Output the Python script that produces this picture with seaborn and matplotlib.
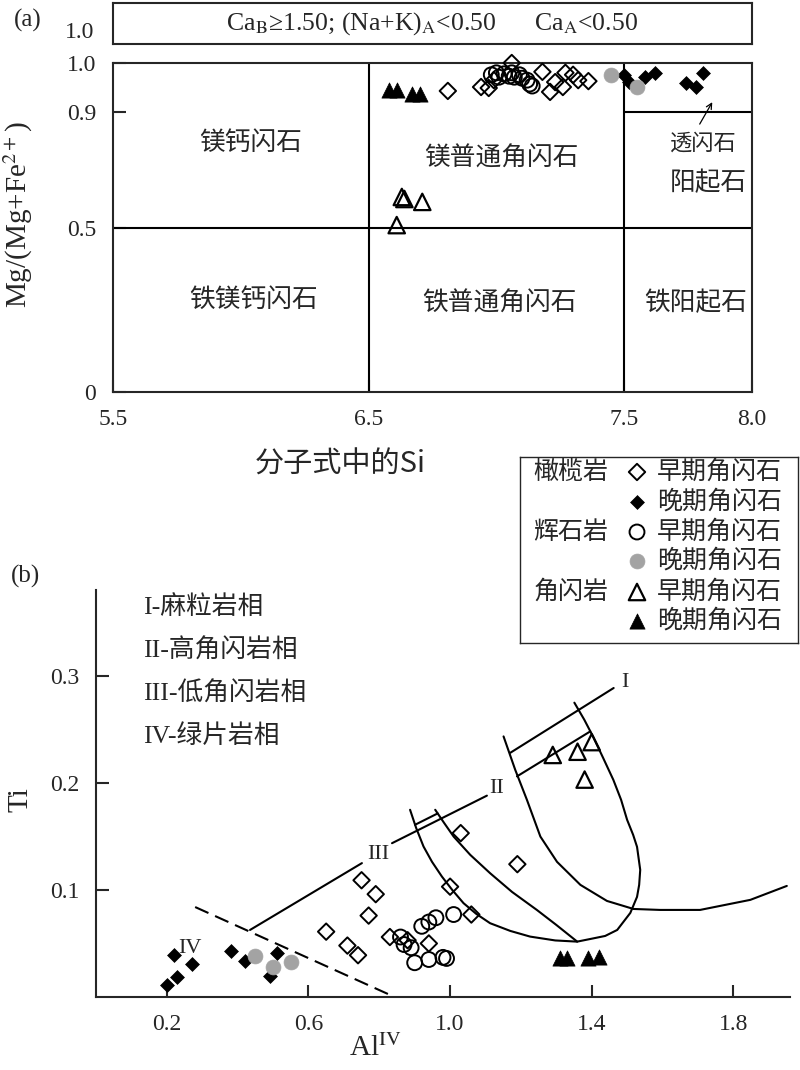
import numpy as np
import matplotlib
matplotlib.use('Agg')
import matplotlib.pyplot as plt
import seaborn as sns

sns.set_style('ticks')
plt.rcParams['font.family'] = ['Liberation Serif', 'Noto Sans CJK SC']
plt.rcParams['mathtext.fontset'] = 'stix'
plt.rcParams['axes.unicode_minus'] = False

# ---- panel (a): Si vs Mg/(Mg+Fe2+) ----
si_ol_early = [6.81, 6.94, 6.97, 6.99, 7.06, 7.18, 7.21, 7.23, 7.26, 7.27, 7.30, 7.32, 7.36]
mg_ol_early = [0.943, 0.951, 0.949, 0.965, 1.0, 0.982, 0.941, 0.961, 0.951, 0.980, 0.976, 0.965, 0.963]
si_ol_late = [7.50, 7.52, 7.58, 7.62, 7.74, 7.78, 7.81]
mg_ol_late = [0.976, 0.961, 0.971, 0.980, 0.959, 0.951, 0.980]
si_px_early = [6.98, 7.00, 7.01, 7.03, 7.05, 7.06, 7.07, 7.09, 7.10, 7.12, 7.13, 7.14]
mg_px_early = [0.976, 0.980, 0.971, 0.978, 0.973, 0.980, 0.971, 0.976, 0.969, 0.965, 0.957, 0.953]
si_px_late = [7.45, 7.55]
mg_px_late = [0.976, 0.951]
si_hb_early = [6.61, 6.63, 6.64, 6.71]
mg_hb_early = [0.51, 0.607, 0.60, 0.59]
si_hb_late = [6.58, 6.61, 6.67, 6.70]
mg_hb_late = [0.945, 0.945, 0.937, 0.937]

# the Mg# axis is stretched between its tick values
mg_ticks = [0, 0.5, 0.9, 1.0]
mg_stretch = [0, 164, 280, 329]
si_ticks = [5.5, 6.5, 7.5, 8.0]

# ---- panel (b): AlIV vs Ti ----
al_ol_early = [1.03, 1.19, 1.00, 1.06, 0.75, 0.79, 0.77, 0.65, 0.71, 0.74, 0.83, 0.94, 0.88]
ti_ol_early = [0.153, 0.124, 0.103, 0.077, 0.109, 0.096, 0.076, 0.061, 0.048, 0.039, 0.056, 0.050, 0.053]
al_ol_late = [0.22, 0.27, 0.23, 0.20, 0.38, 0.42, 0.51, 0.49]
ti_ol_late = [0.039, 0.031, 0.019, 0.011, 0.043, 0.034, 0.041, 0.020]
al_px_early = [0.86, 0.87, 0.92, 0.94, 0.96, 1.01, 0.90, 0.94, 0.98, 0.99, 0.89]
ti_px_early = [0.056, 0.049, 0.066, 0.070, 0.074, 0.077, 0.032, 0.035, 0.037, 0.036, 0.046]
al_px_late = [0.45, 0.50, 0.55]
ti_px_late = [0.038, 0.028, 0.033]
al_hb_early = [1.29, 1.36, 1.40, 1.38]
ti_hb_early = [0.226, 0.229, 0.238, 0.203]
al_hb_late = [1.31, 1.33, 1.39, 1.42]
ti_hb_late = [0.036, 0.036, 0.036, 0.037]

# facies boundaries
dash_al = [0.28, 0.83]
dash_ti = [0.084, 0.002]
line3_al = [0.435, 0.751]
line3_ti = [0.0626, 0.125]
line2_al = [0.836, 1.104]
line2_ti = [0.1436, 0.188]
short_al = [0.901, 0.965]
short_ti = [0.1608, 0.1714]
line2b_al = [1.189, 1.396]
line2b_ti = [0.206, 0.248]
line1_al = [1.170, 1.462]
line1_ti = [0.228, 0.2885]
alpha_al = [1.151, 1.184, 1.217, 1.255, 1.302, 1.368, 1.443, 1.518, 1.593, 1.706, 1.848, 1.951]
alpha_ti = [0.2433, 0.2121, 0.1841, 0.1498, 0.1262, 0.1047, 0.0897, 0.0822, 0.0813, 0.0813, 0.0907, 0.1037]
beta_al = [0.887, 0.904, 0.925, 0.949, 0.977, 1.006, 1.038, 1.074, 1.113, 1.170, 1.226, 1.297, 1.359,
           1.404, 1.438, 1.472, 1.509, 1.528, 1.534, 1.537, 1.528, 1.517, 1.500, 1.483, 1.461, 1.432,
           1.404, 1.379, 1.351]
beta_ti = [0.1748, 0.158, 0.1405, 0.1262, 0.1124, 0.100, 0.0876, 0.0776, 0.0689, 0.0617, 0.0564, 0.0528,
           0.0517, 0.0547, 0.0570, 0.0626, 0.0785, 0.0935, 0.1047, 0.1187, 0.1402, 0.1514, 0.1654,
           0.1841, 0.2028, 0.2234, 0.2430, 0.2589, 0.2748]
gamma_al = [0.958, 0.983, 1.010, 1.057, 1.113, 1.175, 1.245, 1.300, 1.359]
gamma_ti = [0.1748, 0.1626, 0.1498, 0.1327, 0.1156, 0.0981, 0.0813, 0.0673, 0.0517]

groups = ['ol_early', 'ol_late', 'px_early', 'px_late', 'hb_early', 'hb_late']
styles = {
    'ol_early': dict(marker='D', facecolor='none', edgecolor='black', s=70, linewidth=1.4),
    'ol_late': dict(marker='D', facecolor='black', edgecolor='black', s=50, linewidth=0.5),
    'px_early': dict(marker='o', facecolor='none', edgecolor='black', s=115, linewidth=1.4),
    'px_late': dict(marker='o', facecolor='#a3a3a3', edgecolor='#a3a3a3', s=115, linewidth=0.5),
    'hb_early': dict(marker='^', facecolor='none', edgecolor='black', s=140, linewidth=1.6),
    'hb_late': dict(marker='^', facecolor='black', edgecolor='black', s=120, linewidth=0.5),
}
top_xy = {
    'ol_early': (si_ol_early, mg_ol_early), 'ol_late': (si_ol_late, mg_ol_late),
    'px_early': (si_px_early, mg_px_early), 'px_late': (si_px_late, mg_px_late),
    'hb_early': (si_hb_early, mg_hb_early), 'hb_late': (si_hb_late, mg_hb_late),
}
bot_xy = {
    'ol_early': (al_ol_early, ti_ol_early), 'ol_late': (al_ol_late, ti_ol_late),
    'px_early': (al_px_early, ti_px_early), 'px_late': (al_px_late, ti_px_late),
    'hb_early': (al_hb_early, ti_hb_early), 'hb_late': (al_hb_late, ti_hb_late),
}

W, H = 800, 1070
fig = plt.figure(figsize=(8, 10.7), dpi=100)


def px_axes(left, top, right, bottom):
    return fig.add_axes([left / W, 1 - bottom / H, (right - left) / W, (bottom - top) / H])


LW = 1.5
cn = ['Noto Sans CJK SC']
TICK = 17

# ---------- top box ----------
axb = px_axes(113, 3, 752, 44)
axb.set_xticks([])
axb.set_yticks([])
for sp in axb.spines.values():
    sp.set_linewidth(LW)
axb.text(0.5, 0.5, r'Ca$_{\mathrm{B}}$≥1.50; (Na+K)$_{\mathrm{A}}$<0.50      Ca$_{\mathrm{A}}$<0.50',
         ha='center', va='center', fontsize=18.5, transform=axb.transAxes)
fig.text(80 / W, 1 - 33 / H, '1.0', ha='center', va='center', fontsize=TICK)
fig.text(28 / W, 1 - 20 / H, '(a)', ha='center', va='center', fontsize=18)

# ---------- panel (a) ----------
ax1 = px_axes(113, 63, 752, 392)
ax1.set_yscale('function', functions=(lambda v: np.interp(v, mg_ticks, mg_stretch),
                                      lambda v: np.interp(v, mg_stretch, mg_ticks)))
ax1.set_xlim(5.5, 8.0)
ax1.set_ylim(0, 1.0)
ax1.axvline(6.5, color='black', lw=LW)
ax1.axvline(7.5, color='black', lw=LW)
ax1.axhline(0.5, color='black', lw=LW)
ax1.plot([7.5, 8.0], [0.9, 0.9], color='black', lw=LW)
for g in groups:
    x, y = top_xy[g]
    sns.scatterplot(x=x, y=y, ax=ax1, color='black', zorder=3, clip_on=False, **styles[g])
ax1.set_xticks(si_ticks)
ax1.set_xticklabels(['5.5', '6.5', '7.5', '8.0'])
ax1.set_yticks(mg_ticks)
ax1.set_yticklabels(['0', '0.5', '0.9', '1.0'])
ax1.tick_params(direction='in', length=9, width=LW, labelsize=TICK, pad=12)
ax1.minorticks_off()
for sp in ax1.spines.values():
    sp.set_linewidth(LW)
ax1.set_xlabel('')
ax1.set_ylabel('')

for txt, x, y in [('镁钙闪石', 6.04, 0.793), ('镁普通角闪石', 7.02, 0.741), ('阳起石', 7.83, 0.655),
                  ('铁镁钙闪石', 6.05, 0.28), ('铁普通角闪石', 7.01, 0.27), ('铁阳起石', 7.78, 0.27)]:
    ax1.text(x, y, txt, ha='center', va='center', fontsize=18.5, family=cn)
ax1.text(7.81, 0.793, '透闪石', ha='center', va='center', fontsize=16, family=cn)
ax1.annotate('', xy=(7.85, 0.925), xytext=(7.79, 0.85),
             arrowprops=dict(arrowstyle='->', color='black', lw=0.9))

fig.text(18 / W, 1 - 215 / H, r'Mg/(Mg+Fe$^{2+}$)', rotation=90, ha='center', va='center', fontsize=21)
fig.text(340 / W, 1 - 465 / H, '分子式中的Si', ha='center', va='center', fontsize=21,
         family=['Noto Sans CJK SC', 'Liberation Serif'])

# ---------- panel (b) ----------
ax2 = px_axes(96, 590, 790, 997)
ax2.set_xlim(0, 1.96)
ax2.set_ylim(0, 0.38)
sns.despine(ax=ax2)
for sp in ['left', 'bottom']:
    ax2.spines[sp].set_linewidth(LW)
ax2.plot(dash_al, dash_ti, color='black', lw=LW, ls=(0, (7, 3.5)))
for xs, ys in [(line3_al, line3_ti), (line2_al, line2_ti), (short_al, short_ti), (line2b_al, line2b_ti),
               (line1_al, line1_ti), (alpha_al, alpha_ti), (beta_al, beta_ti), (gamma_al, gamma_ti)]:
    ax2.plot(xs, ys, color='black', lw=LW)
for g in groups:
    x, y = bot_xy[g]
    sns.scatterplot(x=x, y=y, ax=ax2, color='black', zorder=3, **styles[g])
for txt, x, y in [('I', 1.495, 0.294), ('II', 1.132, 0.195), ('III', 0.797, 0.133), ('IV', 0.266, 0.045)]:
    ax2.text(x, y, txt, ha='center', va='center', fontsize=16)
ax2.set_xticks([0.2, 0.6, 1.0, 1.4, 1.8])
ax2.set_xticklabels(['0.2', '0.6', '1.0', '1.4', '1.8'])
ax2.set_yticks([0.1, 0.2, 0.3])
ax2.set_yticklabels(['0.1', '0.2', '0.3'])
ax2.tick_params(direction='in', length=9, width=LW, labelsize=TICK, pad=12)
ax2.set_xlabel('')
ax2.set_ylabel('')

for i, txt in enumerate(['I-麻粒岩相', 'II-高角闪岩相', 'III-低角闪岩相', 'IV-绿片岩相']):
    fig.text(143 / W, 1 - (608 + 43 * i) / H, txt, ha='left', va='center', fontsize=18.5)

fig.text(20 / W, 1 - 800 / H, 'Ti', rotation=90, ha='center', va='center', fontsize=21)
fig.text(375 / W, 1 - 1048 / H, r'Al$^{\mathrm{IV}}$', ha='center', va='center', fontsize=21)
fig.text(25 / W, 1 - 576 / H, '(b)', ha='center', va='center', fontsize=18)

# ---------- legend ----------
axl = px_axes(520, 457, 798, 643)
axl.set_xlim(0, 278)
axl.set_ylim(186, 0)
axl.set_xticks([])
axl.set_yticks([])
for sp in axl.spines.values():
    sp.set_linewidth(1.0)
row_y = [15, 45, 75, 104, 135, 164]
rock_names = ['橄榄岩', '', '辉石岩', '', '角闪岩', '']
stage_names = ['早期角闪石', '晚期角闪石'] * 3
for g, ry, rock, stage in zip(groups, row_y, rock_names, stage_names):
    axl.scatter([117], [ry], **styles[g])
    axl.text(51, ry, rock, ha='center', va='center', fontsize=18, family=cn)
    axl.text(137, ry, stage, ha='left', va='center', fontsize=18, family=cn)

fig.savefig('out.png', dpi=100)
